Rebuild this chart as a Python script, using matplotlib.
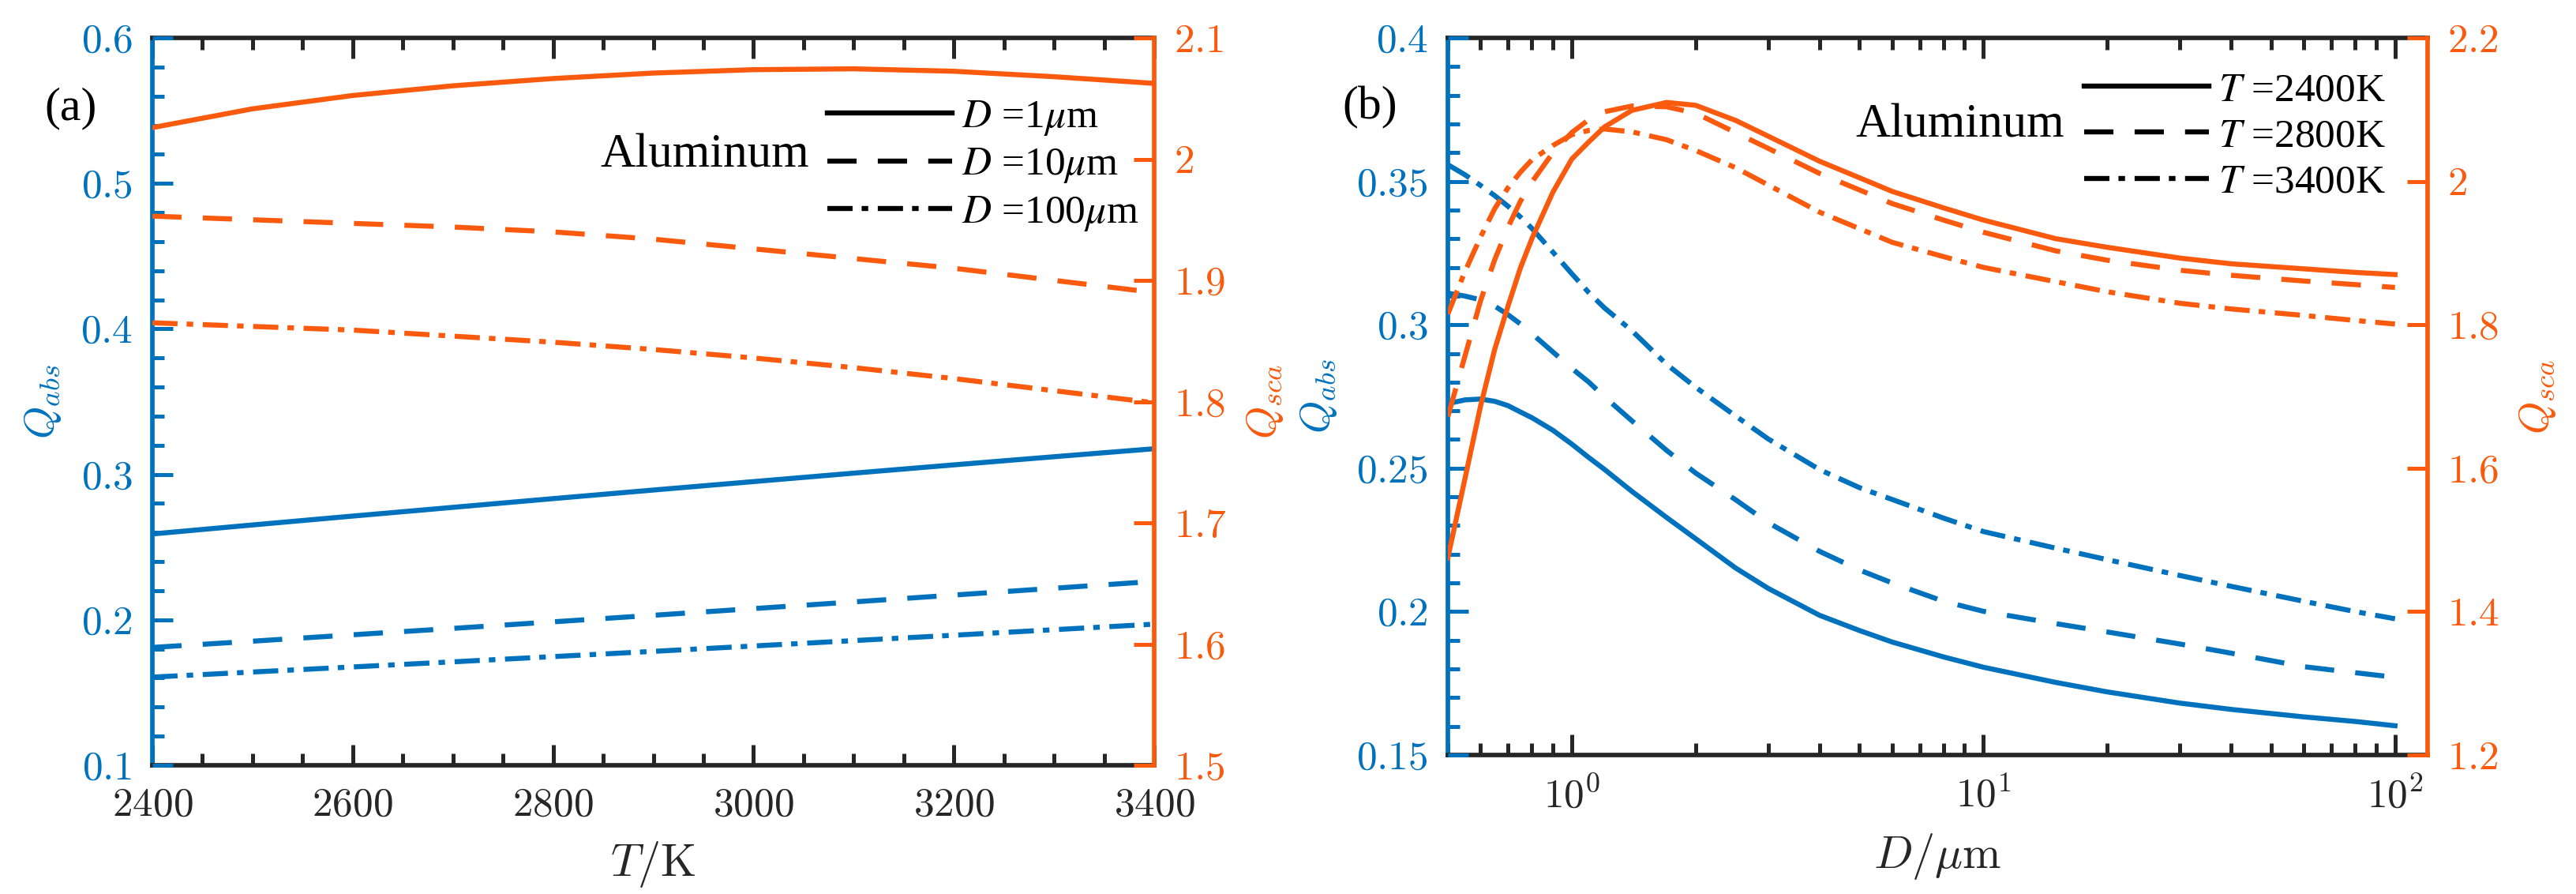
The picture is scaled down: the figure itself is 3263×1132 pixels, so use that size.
import matplotlib
matplotlib.use('Agg')
import matplotlib.pyplot as plt
import numpy as np
from matplotlib.ticker import MultipleLocator, FixedLocator, FuncFormatter, LogLocator, NullFormatter
from matplotlib.lines import Line2D
from matplotlib.font_manager import FontProperties

plt.rcParams['mathtext.fontset'] = 'cm'
plt.rcParams['font.family'] = ['Liberation Serif', 'DejaVu Serif']

BLUE = '#0072BD'
ORANGE = '#F95A0E'
DARK = '#262626'

# ---- panel (a): Q vs T for three diameters
T = [2400, 2500, 2600, 2700, 2800, 2900, 3000, 3100, 3200, 3300, 3400]
qabs_d1 = [0.2590, 0.2652, 0.2713, 0.2773, 0.2833, 0.2892, 0.2950, 0.3008, 0.3065, 0.3121, 0.3176]
qabs_d10 = [0.1810, 0.1853, 0.1897, 0.1941, 0.1986, 0.2031, 0.2077, 0.2123, 0.2170, 0.2217, 0.2264]
qabs_d100 = [0.1606, 0.1641, 0.1676, 0.1711, 0.1747, 0.1783, 0.1820, 0.1857, 0.1894, 0.1932, 0.1970]
qsca_d1 = [2.026, 2.0415, 2.0525, 2.0605, 2.0665, 2.071, 2.0738, 2.0745, 2.0725, 2.068, 2.0625]
qsca_d10 = [1.953, 1.950, 1.947, 1.944, 1.940, 1.934, 1.926, 1.918, 1.910, 1.900, 1.890]
qsca_d100 = [1.865, 1.862, 1.859, 1.854, 1.849, 1.843, 1.836, 1.828, 1.819, 1.809, 1.799]
labels_a = [r'$D$ =1$\mu$m', r'$D$ =10$\mu$m', r'$D$ =100$\mu$m']

T_ticks = [2400, 2600, 2800, 3000, 3200, 3400]
qabs_ticks_a = [0.1, 0.2, 0.3, 0.4, 0.5, 0.6]
qsca_ticks_a = [1.5, 1.6, 1.7, 1.8, 1.9, 2.0, 2.1]

# ---- panel (b): Q vs D for three temperatures
D = [0.5, 0.55, 0.6, 0.65, 0.7, 0.75, 0.8, 0.9, 1.0, 1.1, 1.2, 1.4, 1.7, 2.0, 2.5, 3, 4, 5,
     6, 8, 10, 15, 20, 30, 40, 60, 80, 100]
qabs_t2400 = [0.2725, 0.2738, 0.2741, 0.2733, 0.2718, 0.2696, 0.2676, 0.2632, 0.2584, 0.2537,
              0.2496, 0.2419, 0.2328, 0.2254, 0.2152, 0.2081, 0.1987, 0.1934, 0.1894, 0.1842,
              0.1806, 0.1753, 0.1720, 0.1681, 0.1659, 0.1633, 0.1617, 0.1602]
qabs_t2800 = [0.3110, 0.3100, 0.3087, 0.3065, 0.3035, 0.3003, 0.2969, 0.2905, 0.2848, 0.2800,
              0.2749, 0.2665, 0.2562, 0.2483, 0.2390, 0.2310, 0.2210, 0.2145, 0.2100, 0.2036,
              0.2001, 0.1958, 0.1929, 0.1887, 0.1855, 0.1808, 0.1787, 0.1771]
qabs_t3400 = [0.3558, 0.3523, 0.3486, 0.3450, 0.3413, 0.3376, 0.3336, 0.3253, 0.3178, 0.3112,
              0.3059, 0.2979, 0.2862, 0.2782, 0.2682, 0.2602, 0.2495, 0.2432, 0.2391, 0.2326,
              0.2279, 0.2221, 0.2181, 0.2126, 0.2088, 0.2036, 0.2000, 0.1975]
qsca_t2400 = [1.475, 1.585, 1.686, 1.766, 1.826, 1.879, 1.920, 1.985, 2.031, 2.055, 2.0757,
              2.099, 2.110, 2.106, 2.085, 2.063, 2.028, 2.005, 1.986, 1.963, 1.946, 1.920,
              1.908, 1.893, 1.885, 1.878, 1.873, 1.870]
qsca_t2800 = [1.672, 1.756, 1.833, 1.891, 1.936, 1.972, 1.999, 2.040, 2.068, 2.086, 2.097,
              2.105, 2.104, 2.095, 2.068, 2.046, 2.011, 1.988, 1.969, 1.946, 1.929, 1.903,
              1.890, 1.876, 1.869, 1.861, 1.856, 1.852]
qsca_t3400 = [1.815, 1.874, 1.922, 1.962, 1.991, 2.0127, 2.030, 2.050, 2.065, 2.071, 2.073,
              2.069, 2.058, 2.043, 2.019, 1.995, 1.957, 1.934, 1.915, 1.895, 1.880, 1.860,
              1.846, 1.830, 1.822, 1.813, 1.806, 1.801]
labels_b = [r'$T$ =2400K', r'$T$ =2800K', r'$T$ =3400K']

qabs_ticks_b = [0.15, 0.2, 0.25, 0.3, 0.35, 0.4]
qsca_ticks_b = [1.2, 1.4, 1.6, 1.8, 2.0, 2.2]

# ---- styles
LW = 4.6
STYLES = ['-', (0, (5.8, 4.2)), (0, (5.0, 1.8, 1.3, 1.9))]
TICK_FS = 37
LEG_FS = 37
W, H = 3263, 1132

num_fmt = FuncFormatter(lambda v, p: '${:g}$'.format(round(v, 6)))
pow_fmt = FuncFormatter(lambda v, p: '$10^{%d}$' % int(round(np.log10(v))))


def style_pair(ax, axr):
    ax.spines['right'].set_visible(False)
    for s in ['top', 'bottom']:
        ax.spines[s].set_color(DARK)
        ax.spines[s].set_linewidth(4.1)
    ax.spines['left'].set_color(BLUE)
    ax.spines['left'].set_linewidth(4.1)
    for s in ['top', 'bottom', 'left']:
        axr.spines[s].set_visible(False)
    axr.spines['right'].set_color(ORANGE)
    axr.spines['right'].set_linewidth(4.1)

    ax.tick_params(axis='x', which='both', direction='in', top=True, bottom=True,
                   colors=DARK, labelsize=TICK_FS, pad=20, width=3.6)
    ax.tick_params(axis='y', which='both', direction='in', left=True, right=False,
                   colors=BLUE, labelsize=TICK_FS, pad=18, width=3.6)
    axr.tick_params(axis='y', which='both', direction='in', left=False, right=True,
                    colors=ORANGE, labelsize=TICK_FS, pad=18, width=3.6)
    for a in (ax, axr):
        a.tick_params(which='major', length=19)
        a.tick_params(which='minor', length=10.5)
    ax.yaxis.set_zorder(3)
    axr.yaxis.set_zorder(3)
    ax.yaxis.set_major_formatter(num_fmt)
    axr.yaxis.set_major_formatter(num_fmt)


fig = plt.figure(figsize=(W / 100, H / 100), dpi=100)
legend_prop = FontProperties(family='Liberation Serif', size=LEG_FS, math_fontfamily='stix')
text_prop = dict(family='Liberation Serif', color='k')
fs_px = LEG_FS * 100 / 72
leg_kw = dict(bbox_transform=fig.transFigure, frameon=False, borderpad=0, borderaxespad=0,
              handlelength=158 / fs_px, handletextpad=12 / fs_px, labelspacing=0.22,
              prop=legend_prop, loc='center left')
handles = [Line2D([], [], color='k', lw=LW, ls=ls) for ls in STYLES]

# ================= (a)
ax_a = fig.add_axes([193 / W, 1 - 969 / H, 1269 / W, 921 / H])
ax_ar = ax_a.twinx()
for y, ls in zip([qabs_d1, qabs_d10, qabs_d100], STYLES):
    ax_a.plot(T, y, color=BLUE, lw=LW, ls=ls)
for y, ls in zip([qsca_d1, qsca_d10, qsca_d100], STYLES):
    ax_ar.plot(T, y, color=ORANGE, lw=LW, ls=ls)

ax_a.set_xlim(2400, 3400)
ax_a.set_ylim(0.1, 0.6)
ax_ar.set_ylim(1.5, 2.1)
ax_a.xaxis.set_major_locator(FixedLocator(T_ticks))
ax_a.xaxis.set_minor_locator(MultipleLocator(50))
ax_a.xaxis.set_major_formatter(num_fmt)
ax_a.yaxis.set_major_locator(FixedLocator(qabs_ticks_a))
ax_a.yaxis.set_minor_locator(MultipleLocator(0.02))
ax_ar.yaxis.set_major_locator(FixedLocator(qsca_ticks_a))
ax_ar.yaxis.set_minor_locator(FixedLocator([]))
style_pair(ax_a, ax_ar)

ax_a.set_xlabel(r'$T/\mathrm{K}$', fontsize=42, color=DARK, labelpad=14)
ax_a.set_ylabel(r'$Q_{abs}$', fontsize=38, color=BLUE, labelpad=16)
ax_ar.set_ylabel(r'$Q_{sca}$', fontsize=38, color=ORANGE, labelpad=16)

ax_ar.legend(handles, labels_a, bbox_to_anchor=(1048 / W, 1 - 210 / H), **leg_kw)
fig.text(1025 / W, 1 - 197 / H, 'Aluminum', ha='right', va='center', fontsize=44, **text_prop)
fig.text(56 / W, 1 - 137 / H, '(a)', ha='left', va='center', fontsize=43, **text_prop)

# ================= (b)
ax_b = fig.add_axes([1834 / W, 1 - 956 / H, 1241 / W, 908 / H])
ax_br = ax_b.twinx()
for y, ls in zip([qabs_t2400, qabs_t2800, qabs_t3400], STYLES):
    ax_b.plot(D, y, color=BLUE, lw=LW, ls=ls)
for y, ls in zip([qsca_t2400, qsca_t2800, qsca_t3400], STYLES):
    ax_br.plot(D, y, color=ORANGE, lw=LW, ls=ls)

ax_b.set_xscale('log')
ax_b.set_xlim(0.5, 120)
ax_b.set_ylim(0.15, 0.4)
ax_br.set_ylim(1.2, 2.2)
ax_b.xaxis.set_major_locator(LogLocator(base=10))
ax_b.xaxis.set_minor_locator(LogLocator(base=10, subs=np.arange(2, 10), numticks=20))
ax_b.xaxis.set_major_formatter(pow_fmt)
ax_b.xaxis.set_minor_formatter(NullFormatter())
ax_b.yaxis.set_major_locator(FixedLocator(qabs_ticks_b))
ax_b.yaxis.set_minor_locator(MultipleLocator(0.01))
ax_br.yaxis.set_major_locator(FixedLocator(qsca_ticks_b))
ax_br.yaxis.set_minor_locator(FixedLocator([]))
style_pair(ax_b, ax_br)

ax_b.set_xlabel(r'$D/\mu\mathrm{m}$', fontsize=42, color=DARK, labelpad=14)
ax_b.set_ylabel(r'$Q_{abs}$', fontsize=38, color=BLUE, labelpad=16)
ax_br.set_ylabel(r'$Q_{sca}$', fontsize=38, color=ORANGE, labelpad=16)

ax_br.legend(handles, labels_b, bbox_to_anchor=(2640 / W, 1 - 173 / H), **leg_kw)
fig.text(2615 / W, 1 - 159 / H, 'Aluminum', ha='right', va='center', fontsize=44, **text_prop)
fig.text(1700 / W, 1 - 136 / H, '(b)', ha='left', va='center', fontsize=43, **text_prop)

fig.savefig('out.png', dpi=100)
